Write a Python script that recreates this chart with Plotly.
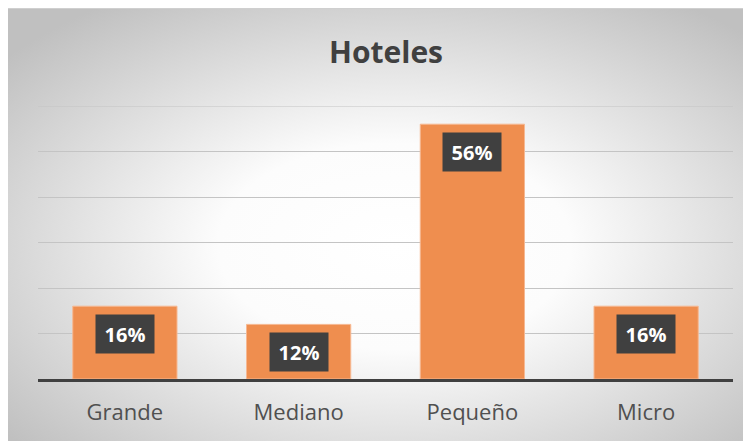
import base64
import plotly.graph_objects as go

categories = ["Grande", "Mediano", "Pequeño", "Micro"]
values = [16, 12, 56, 16]
labels = ["16%", "12%", "56%", "16%"]
title_text = "Hoteles"
y_max = 60

# page body has an 8px default margin, so the figure starts at (8, 8)
W, H = 743, 433
L, R, T, B = 30, 18, 98, 62
pw, ph = W - L - R, H - T - B

svg = """<svg xmlns='http://www.w3.org/2000/svg' width='743' height='433' viewBox='0 0 743 433' preserveAspectRatio='none'>
<defs><radialGradient id='g' cx='0.52' cy='0.55' r='0.68'>
<stop offset='0' stop-color='#ffffff'/><stop offset='0.35' stop-color='#fcfcfc'/>
<stop offset='1' stop-color='#c0c0c0'/></radialGradient></defs>
<rect x='0' y='0' width='743' height='433' fill='url(#g)'/>
<line x1='0' y1='0.5' x2='743' y2='0.5' stroke='#cfcfcf' stroke-width='1'/>
</svg>"""
src = "data:image/svg+xml;base64," + base64.b64encode(svg.encode()).decode()

fig = go.Figure()
fig.add_trace(go.Bar(
    x=categories, y=values, width=0.6,
    marker=dict(color="#EF8E4F", line=dict(color="#F6B892", width=1)),
    hoverinfo="skip",
))

for c, v, t in zip(categories, values, labels):
    fig.add_annotation(
        x=c, y=v, xref="x", yref="y", text="<b>" + t + "</b>",
        showarrow=False, yanchor="top", yshift=-8,
        bgcolor="#404040", font=dict(color="white", size=20, family="Open Sans"),
        width=46, height=26, borderpad=6,
    )

fig.add_hline(y=y_max, line=dict(color="#c4c4c4", width=1), layer="below")

fig.add_layout_image(
    source=src, xref="paper", yref="paper", x=-L / pw, y=(H - B) / ph,
    sizex=W / pw, sizey=H / ph,
    xanchor="left", yanchor="top", sizing="stretch", layer="below",
)

fig.update_layout(
    width=W, height=H,
    margin=dict(l=L, r=R, t=T, b=B),
    paper_bgcolor="white", plot_bgcolor="rgba(0,0,0,0)",
    showlegend=False,
    title=dict(text="<b>" + title_text + "</b>", x=378 / W, xanchor="center",
               y=1 - 44 / H, yanchor="middle",
               font=dict(size=30, color="#404040", family="Open Sans")),
    xaxis=dict(showline=True, linecolor="#404040", linewidth=3, ticks="",
               tickfont=dict(size=22, color="#505050", family="Open Sans"),
               ticklabelstandoff=12, showgrid=False, fixedrange=True),
    yaxis=dict(range=[0, y_max], dtick=10, showticklabels=False, showgrid=True,
               gridcolor="#c4c4c4", gridwidth=1, zeroline=False, fixedrange=True),
)

fig.write_html("out.html")
